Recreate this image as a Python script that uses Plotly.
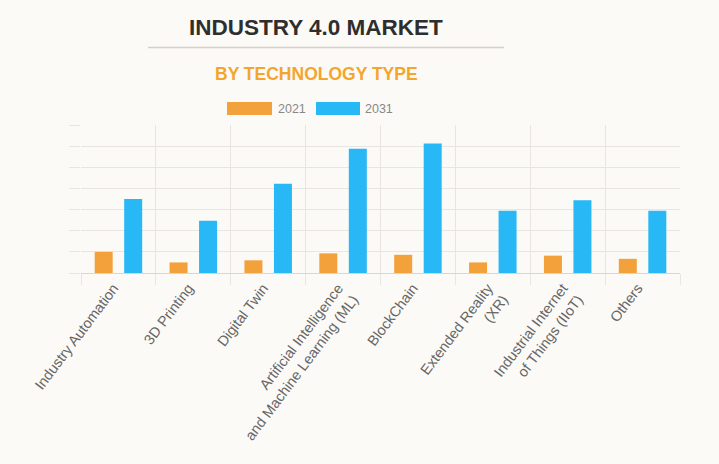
import plotly.graph_objects as go

# ---- data ----
categories = [
    "Industry Automation",
    "3D Printing",
    "Digital Twin",
    "Artificial Intelligence<br>and Machine Learning (ML)",
    "BlockChain",
    "Extended Reality<br>(XR)",
    "Industrial Internet<br>of Things (IIoT)",
    "Others",
]
values_2021 = [1.0, 0.5, 0.6, 0.93, 0.86, 0.5, 0.82, 0.67]
values_2031 = [3.5, 2.47, 4.22, 5.88, 6.12, 2.95, 3.44, 2.95]
series_names = ["2021", "2031"]

# ---- layout constants ----
W, H = 719, 464
L, R, T, B = 81, 39, 125, 191
PW, PH = W - L - R, H - T - B
ORANGE = "#F3A13A"
BLUE = "#27B8F5"
GRID = "#E9E6E1"
BG = "#FCFAF6"
FONT = "Liberation Sans, Arial, sans-serif"


def px(x):
    return (x - L) / PW


def py(y):
    return (H - B - y) / PH


fig = go.Figure()
fig.add_trace(go.Bar(name=series_names[0], x=categories, y=values_2021,
                     marker=dict(color=ORANGE, line=dict(width=0))))
fig.add_trace(go.Bar(name=series_names[1], x=categories, y=values_2031,
                     marker=dict(color=BLUE, line=dict(width=0))))

shapes = [
    # title underline
    dict(type="line", xref="paper", yref="paper", x0=px(148), x1=px(504),
         y0=py(47.5), y1=py(47.5), line=dict(color="#D2D0CC", width=1.5)),
    # legend boxes
    dict(type="rect", xref="paper", yref="paper", x0=px(227), x1=px(272),
         y0=py(115), y1=py(102), fillcolor=ORANGE, line=dict(width=0)),
    dict(type="rect", xref="paper", yref="paper", x0=px(316), x1=px(360),
         y0=py(115), y1=py(102), fillcolor=BLUE, line=dict(width=0)),
]

annotations = [
    dict(text="<b>INDUSTRY 4.0 MARKET</b>", xref="paper", yref="paper",
         x=px(315.5), y=py(27), xanchor="center", yanchor="middle",
         showarrow=False, font=dict(family=FONT, size=22.5, color="#2E2E2E")),
    dict(text="<b>BY TECHNOLOGY TYPE</b>", xref="paper", yref="paper",
         x=px(316), y=py(74), xanchor="center", yanchor="middle",
         showarrow=False, font=dict(family=FONT, size=17.5, color="#F5A52B")),
    dict(text=series_names[0], xref="paper", yref="paper",
         x=px(276), y=py(108.5), xanchor="left", yanchor="middle",
         showarrow=False, font=dict(family=FONT, size=12.5, color="#888888")),
    dict(text=series_names[1], xref="paper", yref="paper",
         x=px(363), y=py(108.5), xanchor="left", yanchor="middle",
         showarrow=False, font=dict(family=FONT, size=12.5, color="#888888")),
]

fig.update_layout(
    width=W, height=H,
    margin=dict(l=L, r=R, t=T, b=B, pad=0),
    paper_bgcolor=BG, plot_bgcolor=BG,
    barmode="group", bargap=0.212, bargroupgap=0.39,
    showlegend=False,
    shapes=shapes, annotations=annotations,
    font=dict(family=FONT, color="#666666"),
    xaxis=dict(
        type="category", tickson="boundaries", showgrid=True, gridcolor=GRID,
        ticks="outside", ticklen=11, tickcolor=GRID, tickwidth=1,
        showline=True, linecolor="#D9D5CF", linewidth=1,
        tickangle=-53, ticklabelshift=-5,
        tickfont=dict(family=FONT, size=14.5, color="#666666"),
        fixedrange=True,
    ),
    yaxis=dict(
        range=[0, 7], dtick=1, showgrid=True, gridcolor=GRID,
        ticks="outside", ticklen=11, tickcolor=GRID, showticklabels=False,
        zeroline=False, showline=False, fixedrange=True,
    ),
)

fig.write_html("out.html", config={"displayModeBar": False})
